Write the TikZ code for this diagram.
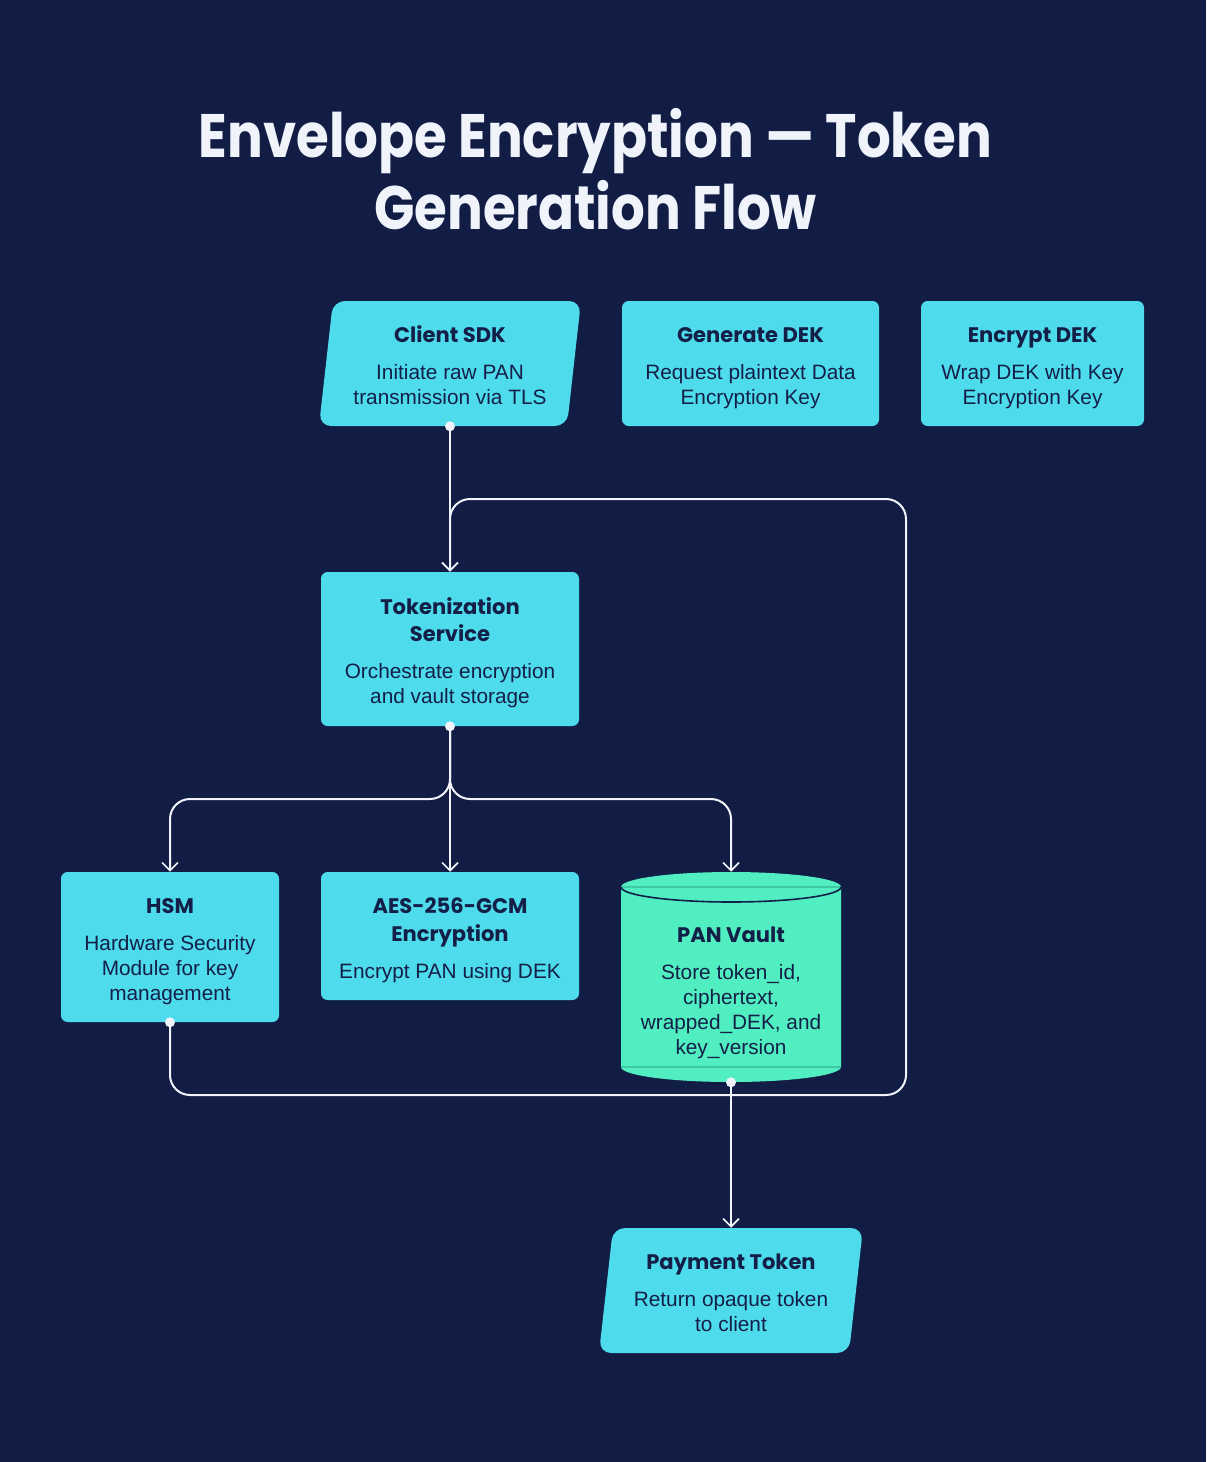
\documentclass[tikz,border=0pt]{standalone}
\usepackage{fontspec}
\setmainfont{Liberation Sans}
\newfontfamily\popfont{Poppins}[UprightFont=* Bold,BoldFont=* Bold]
\newfontfamily\titlefont{Poppins}[UprightFont=* Bold,BoldFont=* Bold,FakeStretch=0.865]
\usetikzlibrary{arrows.meta}
\definecolor{bgc}{HTML}{121D46}
\definecolor{cyanbox}{HTML}{4EDBEB}
\definecolor{greenbox}{HTML}{50EEC0}
\definecolor{greenline}{HTML}{3CC9A4}
\definecolor{inkc}{HTML}{141F48}
\definecolor{wire}{HTML}{F0F4FA}
\newcommand{\headf}{\popfont\fontsize{15.8}{21.75}\selectfont}
\newcommand{\bodyf}{\fontsize{15.6}{18.75}\selectfont}
\newcommand{\hstrut}{\rule{0pt}{20.5pt}}
\tikzset{
  boxnode/.style={fill=cyanbox, rounded corners=5pt, inner sep=0pt, align=center, text=inkc, font=\bodyf},
  ghost/.style={inner sep=0pt, align=center, text=inkc, font=\bodyf},
  flow/.style={draw=wire, line width=1.5pt, rounded corners=15pt, -{Straight Barb[length=6pt,width=12pt,line width=1.3pt]}},
  startdot/.style={fill=wire, circle, inner sep=0pt, minimum size=7.5pt},
}
\begin{document}
\begin{tikzpicture}[x=0.75pt,y=-0.75pt]
\fill[bgc] (0,0) rectangle (1206,1462);
\useasboundingbox (0,0) rectangle (1206,1462);

% title
\node[text=wire, align=center, font={\titlefont\fontsize{46}{54}\selectfont}] (title) at (595.5,169) {Envelope Encryption — Token\\Generation Flow};

% parallelogram shapes
\fill[cyanbox, rounded corners=9pt] (333,301) -- (581,301) -- (567,426) -- (319,426) -- cycle;
\fill[cyanbox, rounded corners=9pt] (613,1228) -- (863,1228) -- (849,1353) -- (599,1353) -- cycle;

% cylinder
\fill[greenbox] (621,887) -- (621,1067) arc[start angle=180,end angle=0,x radius=110,y radius=15] -- (841,887) arc[start angle=0,end angle=-180,x radius=110,y radius=15] -- cycle;
\draw[greenline, line width=0.8pt] (621,887) -- (841,887);
\draw[greenline, line width=0.8pt] (621,1067) -- (841,1067);
\draw[inkc, line width=1.2pt] (621,887) arc[start angle=180,end angle=0,x radius=110,y radius=15];

% nodes
\node[ghost, minimum width=196.5pt, minimum height=93.75pt] (client) at (450,363.5)
  {{\headf\hstrut Client SDK}\\[9pt]Initiate raw PAN\\transmission via TLS\strut};
\node[boxnode, minimum width=192.75pt, minimum height=93.75pt] (gen) at (750.5,363.5)
  {{\headf\hstrut Generate DEK}\\[9pt]Request plaintext Data\\Encryption Key\strut};
\node[boxnode, minimum width=167.25pt, minimum height=93.75pt] (enc) at (1032.5,363.5)
  {{\headf\hstrut Encrypt DEK}\\[9pt]Wrap DEK with Key\\Encryption Key\strut};
\node[boxnode, minimum width=193.5pt, minimum height=115.5pt] (tok) at (450,649)
  {{\headf\hstrut Tokenization}\\[2pt]{\headf Service}\\[9pt]Orchestrate encryption\\and vault storage\strut};
\node[boxnode, minimum width=163.5pt, minimum height=112.5pt] (hsm) at (170,947)
  {{\headf\hstrut HSM}\\[9pt]Hardware Security\\Module for key\\management\strut};
\node[boxnode, minimum width=193.5pt, minimum height=96pt] (aes) at (450,936)
  {{\headf\hstrut AES-256-GCM}\\[2pt]{\headf Encryption}\\[9pt]Encrypt PAN using DEK\strut};
\node[ghost, minimum width=165pt, minimum height=157.5pt] (vault) at (731,977) {};
\node[ghost] (vaulttext) at (731,988.5)
  {{\headf\hstrut PAN Vault}\\[9pt]Store token\_id,\\ciphertext,\\wrapped\_DEK, and\\key\_version\strut};
\node[ghost, minimum width=198pt, minimum height=93.75pt] (pay) at (731,1290.5)
  {{\headf\hstrut Payment Token}\\[9pt]Return opaque token\\to client\strut};

% connectors
\coordinate (split) at (450,799);
\coordinate (loopbr) at (906,1095);
\coordinate (looptr) at (906,499);
\draw[flow] (client.south) -- (tok.north);
\draw[flow] (tok.south) -- (aes.north);
\draw[flow] (tok.south) -- (split) -| (hsm.north);
\draw[flow] (tok.south) -- (split) -| (vault.north);
\draw[flow] (hsm.south) |- (loopbr) -- (looptr) -| (tok.north);
\draw[flow] (vault.south) -- (pay.north);

\node[startdot] at (client.south) {};
\node[startdot] at (tok.south) {};
\node[startdot] at (hsm.south) {};
\node[startdot] at (vault.south) {};
\end{tikzpicture}
\end{document}
